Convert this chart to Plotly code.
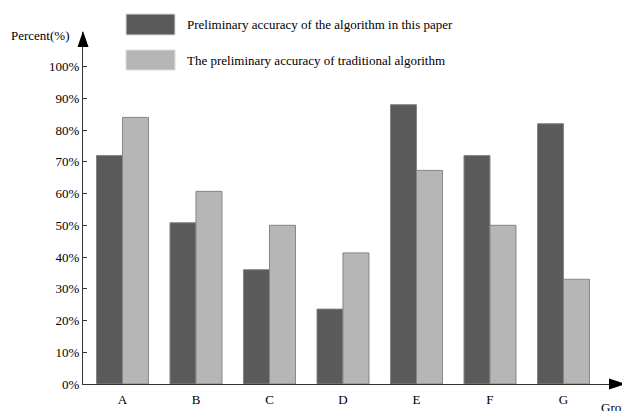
import plotly.graph_objects as go

categories = ["A", "B", "C", "D", "E", "F", "G"]
series_names = [
    "Preliminary accuracy of the algorithm in this paper",
    "The preliminary accuracy of traditional algorithm",
]
this_paper = [72, 50.8, 36, 23.6, 88, 72, 82]
traditional = [84, 60.7, 50, 41.3, 67.3, 50, 33]
y_ticks = [0, 10, 20, 30, 40, 50, 60, 70, 80, 90, 100]
y_tick_labels = [f"{v}%" for v in y_ticks]

OFF = 8  # page body margin
W, H = 630 - OFF, 411 - OFF
L, R, T, B = 83 - OFF, 5, 32 - OFF, 27
pw, ph = W - L - R, H - T - B
FONT = "Liberation Serif, Times New Roman, serif"
FS = 13
colors = ["#5a5a5a", "#b6b6b6"]

fig = go.Figure()
for name, vals, col in zip(series_names, [this_paper, traditional], colors):
    fig.add_trace(go.Bar(
        x=categories, y=vals, name=name,
        marker=dict(color=col, line=dict(color="#858585", width=1)),
        showlegend=False,
    ))

def px_x(p):
    return (p - OFF - L) / pw

def px_y(p):
    return (H - B - (p - OFF)) / ph

shapes = []
shapes.append(dict(type="path", xref="paper", yref="paper",
                   path=f"M {px_x(83)} {px_y(31)} L {px_x(77.5)} {px_y(47)} L {px_x(88.5)} {px_y(47)} Z",
                   fillcolor="black", line=dict(color="black", width=0)))
shapes.append(dict(type="path", xref="paper", yref="paper",
                   path=f"M {px_x(626)} {px_y(384)} L {px_x(609)} {px_y(378.5)} L {px_x(609)} {px_y(389.5)} Z",
                   fillcolor="black", line=dict(color="black", width=0)))

annotations = []
legend_rows = [(14, 35), (50, 70)]
for (y0, y1), name, col in zip(legend_rows, series_names, colors):
    shapes.append(dict(type="rect", xref="paper", yref="paper",
                       x0=px_x(126), x1=px_x(175), y0=px_y(y1), y1=px_y(y0),
                       fillcolor=col, line=dict(color="#dcdcdc", width=1)))
    annotations.append(dict(text=name, xref="paper", yref="paper",
                            x=px_x(185), y=px_y((y0 + y1) / 2),
                            xanchor="left", yanchor="middle", showarrow=False,
                            font=dict(family=FONT, size=FS, color="black")))

annotations.append(dict(text="Percent(%)", xref="paper", yref="paper",
                        x=px_x(40), y=px_y(36), xanchor="center", yanchor="middle",
                        showarrow=False, font=dict(family=FONT, size=FS, color="black")))
annotations.append(dict(text="Group", xref="paper", yref="paper",
                        x=px_x(599), y=px_y(398), xanchor="left", yanchor="top",
                        showarrow=False, font=dict(family=FONT, size=FS, color="black")))

fig.update_layout(
    width=W, height=H,
    margin=dict(l=L, r=R, t=T, b=B, pad=0),
    paper_bgcolor="white", plot_bgcolor="white",
    barmode="group", bargap=0.293, bargroupgap=0,
    font=dict(family=FONT, size=FS, color="black"),
    shapes=shapes, annotations=annotations,
    xaxis=dict(range=[-0.537, 6.837], showline=True, linecolor="#333333", linewidth=1,
               ticks="", showgrid=False, zeroline=False, ticklabelstandoff=3,
               tickfont=dict(family=FONT, size=FS, color="black")),
    yaxis=dict(range=[0, 110.9], showline=True, linecolor="#333333", linewidth=1,
               tickvals=y_ticks, ticktext=y_tick_labels, ticks="inside", ticklen=4,
               tickcolor="#333333", showgrid=False, zeroline=False, ticklabelstandoff=0,
               tickfont=dict(family=FONT, size=FS, color="black")),
)

fig.write_html("out.html")
